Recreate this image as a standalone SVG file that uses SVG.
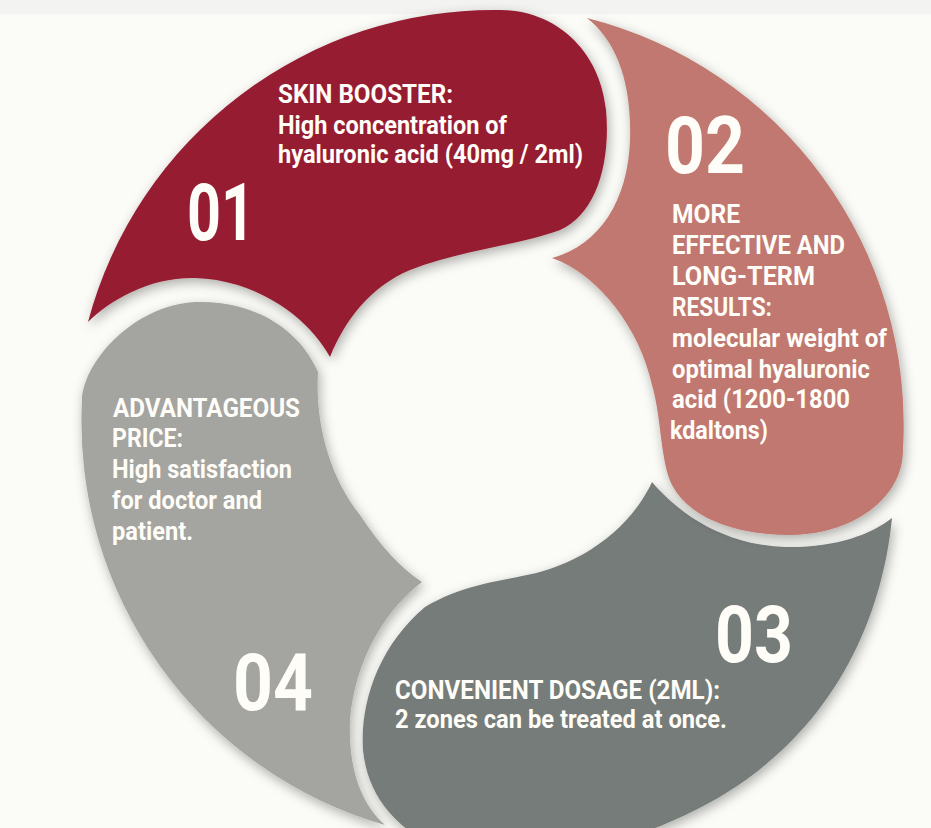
<svg xmlns="http://www.w3.org/2000/svg" width="931" height="828" viewBox="0 0 931 828">
<defs>
<filter id="sh" x="-20%" y="-20%" width="140%" height="140%">
<feDropShadow dx="2" dy="4" stdDeviation="6" flood-color="#000" flood-opacity="0.32"/>
</filter>
<style>
.t{font-family:Roboto,"Liberation Sans",sans-serif;font-weight:700;font-size:26px;fill:#fffdf8}
.n{font-family:Roboto,"Liberation Sans",sans-serif;font-weight:700;font-size:80px;fill:#fffdf8}
</style>
</defs>
<rect width="931" height="828" fill="#fbfbf7"/>
<rect width="931" height="14" fill="#f3f3f1"/>

<g id="n04">
<path filter="url(#sh)" fill="#a4a4a0" d="M 385 825 A 420 420 0 0 1 82 400 C 84 360, 135 305, 195 302 C 255 300, 300 330, 318 372 C 315 420, 328 475, 360 515 C 380 545, 400 568, 422 582 C 385 610, 355 660, 350 720 C 348 770, 362 805, 385 825 Z"/>
<text class="t" x="113" y="417" textLength="187" lengthAdjust="spacingAndGlyphs">ADVANTAGEOUS</text>
<text class="t" x="112" y="447" textLength="71" lengthAdjust="spacingAndGlyphs">PRICE:</text>
<text class="t" x="112" y="478" textLength="180" lengthAdjust="spacingAndGlyphs">High satisfaction</text>
<text class="t" x="112" y="509" textLength="150" lengthAdjust="spacingAndGlyphs">for doctor and</text>
<text class="t" x="112" y="540" textLength="81" lengthAdjust="spacingAndGlyphs">patient.</text>
<text class="n" x="233" y="710" textLength="80" lengthAdjust="spacingAndGlyphs">04</text>
</g>

<g id="n03">
<path filter="url(#sh)" fill="#767b79" d="M 652 482 C 680 515, 725 545, 785 547 C 835 548, 870 535, 892 518 C 880 640, 810 800, 580 850 L 440 850 C 400 830, 368 800, 363 750 C 360 700, 380 645, 425 607 C 465 583, 510 580, 540 572 C 590 558, 632 525, 652 482 Z"/>
<text class="n" x="715" y="662" textLength="78" lengthAdjust="spacingAndGlyphs">03</text>
<text class="t" x="395" y="699" textLength="325" lengthAdjust="spacingAndGlyphs">CONVENIENT DOSAGE (2ML):</text>
<text class="t" x="395" y="728" textLength="332" lengthAdjust="spacingAndGlyphs">2 zones can be treated at once.</text>
</g>

<g id="n02">
<path filter="url(#sh)" fill="#c0786f" d="M 587 18 A 420 420 0 0 1 903 450 C 903 500, 850 535, 790 535 C 740 535, 690 520, 672 485 C 660 460, 662 420, 652 385 C 640 330, 600 275, 552 258 C 600 245, 628 200, 630 140 C 632 80, 615 40, 587 18 Z"/>
<text class="n" x="665" y="173" textLength="80" lengthAdjust="spacingAndGlyphs">02</text>
<text class="t" x="672" y="223" textLength="68" lengthAdjust="spacingAndGlyphs">MORE</text>
<text class="t" x="672" y="254" textLength="173" lengthAdjust="spacingAndGlyphs">EFFECTIVE AND</text>
<text class="t" x="672" y="285" textLength="143" lengthAdjust="spacingAndGlyphs">LONG-TERM</text>
<text class="t" x="672" y="316" textLength="100" lengthAdjust="spacingAndGlyphs">RESULTS:</text>
<text class="t" x="672" y="347" textLength="215" lengthAdjust="spacingAndGlyphs">molecular weight of</text>
<text class="t" x="672" y="378" textLength="198" lengthAdjust="spacingAndGlyphs">optimal hyaluronic</text>
<text class="t" x="672" y="408" textLength="178" lengthAdjust="spacingAndGlyphs">acid (1200-1800</text>
<text class="t" x="670" y="439" textLength="98" lengthAdjust="spacingAndGlyphs">kdaltons)</text>
</g>

<g id="n01">
<path filter="url(#sh)" fill="#961b30" d="M 88 322 A 420 420 0 0 1 500 10 C 555 10, 600 50, 606 110 C 611 165, 595 215, 560 230 C 520 245, 460 250, 410 270 C 370 287, 345 320, 330 357 C 310 320, 260 280, 195 278 C 150 277, 110 300, 88 322 Z"/>
<text class="t" x="278" y="103" textLength="175" lengthAdjust="spacingAndGlyphs">SKIN BOOSTER:</text>
<text class="t" x="278" y="134" textLength="229" lengthAdjust="spacingAndGlyphs">High concentration of</text>
<text class="t" x="278" y="163" textLength="305" lengthAdjust="spacingAndGlyphs">hyaluronic acid (40mg / 2ml)</text>
<text class="n" x="187" y="240" textLength="68" lengthAdjust="spacingAndGlyphs">01</text>
</g>

<g id="connectors"/>
</svg>
